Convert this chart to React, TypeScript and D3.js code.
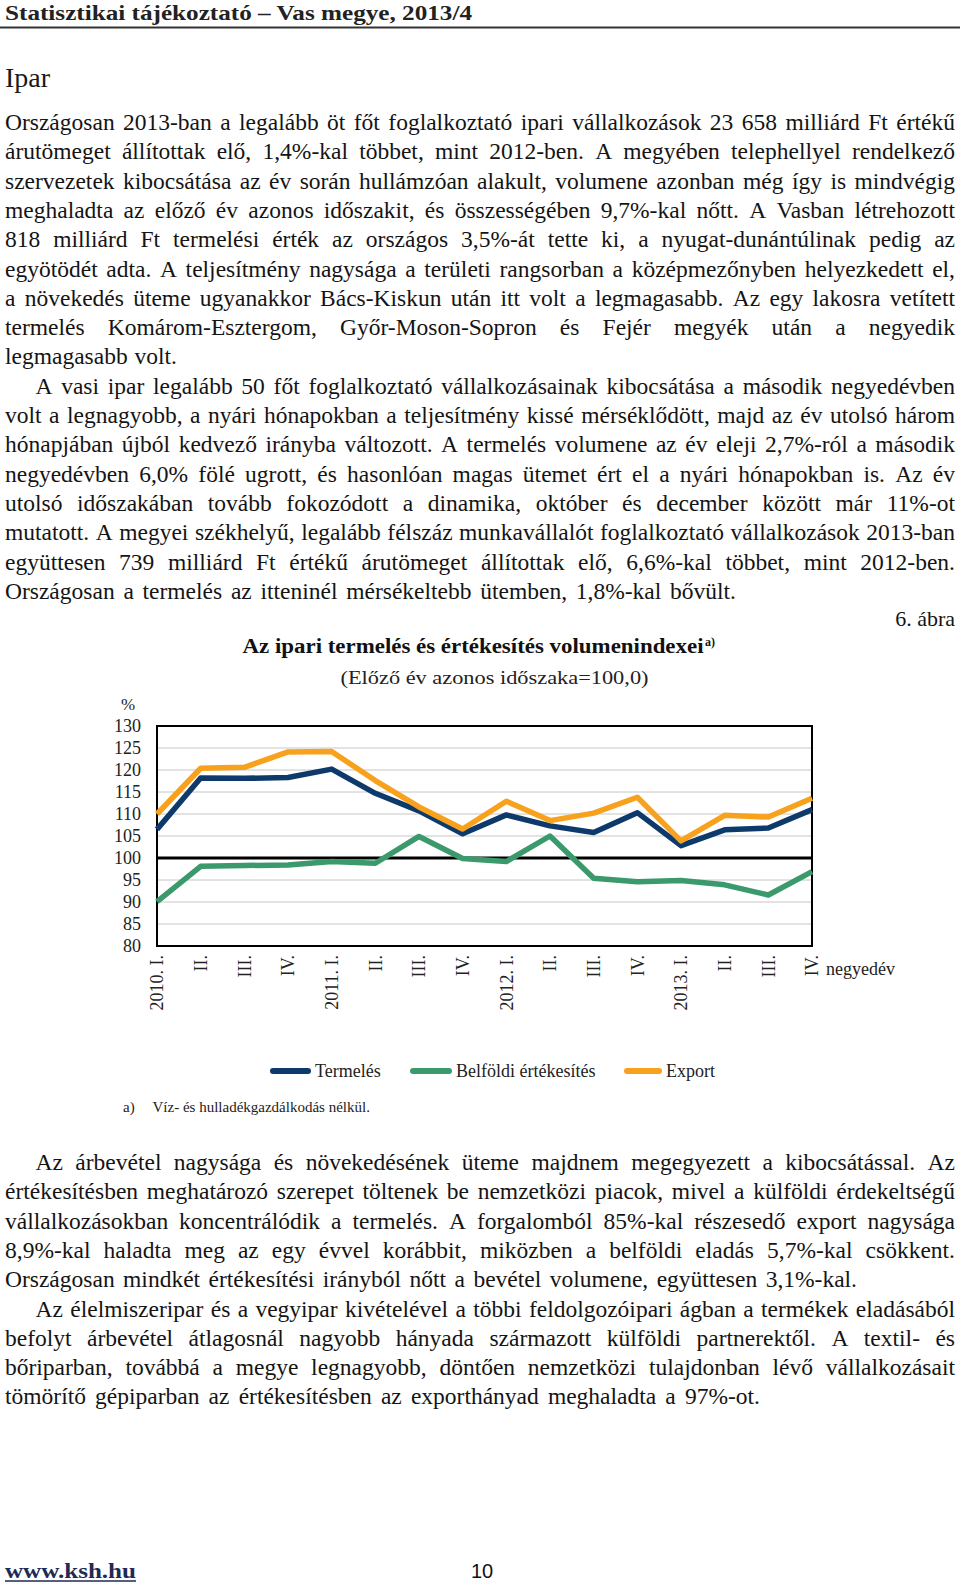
import React from "react";
import * as d3 from "d3";

// ---------- DATA ----------
const quarters = ["2010. I.", "II.", "III.", "IV.", "2011. I.", "II.", "III.", "IV.", "2012. I.", "II.", "III.", "IV.", "2013. I.", "II.", "III.", "IV."];
const termeles = [106.5, 118.2, 118.1, 118.3, 120.2, 114.7, 110.7, 105.5, 109.8, 107.3, 105.8, 110.3, 102.8, 106.4, 106.8, 111.0];
const belfoldi = [90.1, 98.1, 98.3, 98.4, 99.2, 98.8, 104.9, 99.9, 99.2, 105.0, 95.4, 94.6, 94.9, 93.9, 91.6, 96.9];
const exportIdx = [110.0, 120.4, 120.6, 124.1, 124.2, 117.6, 111.6, 106.6, 112.9, 108.5, 110.2, 113.8, 103.9, 109.7, 109.3, 113.6];
const yTicks = [80, 85, 90, 95, 100, 105, 110, 115, 120, 125, 130];
const seriesNames = ["Termelés", "Belföldi értékesítés", "Export"];
const seriesColors = ["#0d3a6b", "#3a9a6b", "#f7a11c"];

const headerText = "Statisztikai tájékoztató – Vas megye, 2013/4";
const sectionTitle = "Ipar";
const chartTitle = "Az ipari termelés és értékesítés volumenindexei";
const chartSubtitle = "(Előző év azonos időszaka=100,0)";
const figureLabel = "6. ábra";
const footnote = "Víz- és hulladékgazdálkodás nélkül.";

const para1 = [
  "Országosan 2013-ban a legalább öt főt foglalkoztató ipari vállalkozások 23 658 milliárd Ft értékű",
  "árutömeget állítottak elő, 1,4%-kal többet, mint 2012-ben. A megyében telephellyel rendelkező",
  "szervezetek kibocsátása az év során hullámzóan alakult, volumene azonban még így is mindvégig",
  "meghaladta az előző év azonos időszakit, és összességében 9,7%-kal nőtt. A Vasban létrehozott",
  "818 milliárd Ft termelési érték az országos 3,5%-át tette ki, a nyugat-dunántúlinak pedig az",
  "egyötödét adta. A teljesítmény nagysága a területi rangsorban a középmezőnyben helyezkedett el,",
  "a növekedés üteme ugyanakkor Bács-Kiskun után itt volt a legmagasabb. Az egy lakosra vetített",
  "termelés Komárom-Esztergom, Győr-Moson-Sopron és Fejér megyék után a negyedik",
  "legmagasabb volt.",
];
const para2 = [
  "A vasi ipar legalább 50 főt foglalkoztató vállalkozásainak kibocsátása a második negyedévben",
  "volt a legnagyobb, a nyári hónapokban a teljesítmény kissé mérséklődött, majd az év utolsó három",
  "hónapjában újból kedvező irányba változott. A termelés volumene az év eleji 2,7%-ról a második",
  "negyedévben 6,0% fölé ugrott, és hasonlóan magas ütemet ért el a nyári hónapokban is. Az év",
  "utolsó időszakában tovább fokozódott a dinamika, október és december között már 11%-ot",
  "mutatott. A megyei székhelyű, legalább félszáz munkavállalót foglalkoztató vállalkozások 2013-ban",
  "együttesen 739 milliárd Ft értékű árutömeget állítottak elő, 6,6%-kal többet, mint 2012-ben.",
  "Országosan a termelés az itteninél mérsékeltebb ütemben, 1,8%-kal bővült.",
];
const para3 = [
  "Az árbevétel nagysága és növekedésének üteme majdnem megegyezett a kibocsátással. Az",
  "értékesítésben meghatározó szerepet töltenek be nemzetközi piacok, mivel a külföldi érdekeltségű",
  "vállalkozásokban koncentrálódik a termelés. A forgalomból 85%-kal részesedő export nagysága",
  "8,9%-kal haladta meg az egy évvel korábbit, miközben a belföldi eladás 5,7%-kal csökkent.",
  "Országosan mindkét értékesítési irányból nőtt a bevétel volumene, együttesen 3,1%-kal.",
];
const para4 = [
  "Az élelmiszeripar és a vegyipar kivételével a többi feldolgozóipari ágban a termékek eladásából",
  "befolyt árbevétel átlagosnál nagyobb hányada származott külföldi partnerektől. A textil- és",
  "bőriparban, továbbá a megye legnagyobb, döntően nemzetközi tulajdonban lévő vállalkozásait",
  "tömörítő gépiparban az értékesítésben az exporthányad meghaladta a 97%-ot.",
];

// ---------- LAYOUT ----------
const W = 960;
const H = 1585;
const SERIF = '"Liberation Serif", "Times New Roman", serif';
const TEXT_COLOR = "#141414";
const BODY_SIZE = 23.5;
const LINE_H = 29.3;
const LEFT = 5;
const RIGHT = 955;
const INDENT = 35.5;

let ctx: CanvasRenderingContext2D | null = null;
function measure(text: string, size: number, weight = "normal") {
  if (!ctx) ctx = document.createElement("canvas").getContext("2d");
  if (!ctx) return text.length * size * 0.45;
  ctx.font = `${weight} ${size}px "Liberation Serif"`;
  return ctx.measureText(text).width;
}

function TextLine({ text, x0, x1, y, size }: { text: string; x0: number; x1: number; y: number; size: number }) {
  const words = text.split(" ");
  const widths = words.map((w) => measure(w, size));
  const sum = d3.sum(widths);
  const spaceW = measure(" ", size);
  let gap = words.length > 1 ? (x1 - x0 - sum) / (words.length - 1) : spaceW;
  let scale = 1;
  if (gap < spaceW * 0.7) {
    gap = spaceW * 0.7;
    scale = (x1 - x0 - gap * (words.length - 1)) / sum;
  }
  let cx = x0;
  const items = words.map((w, i) => {
    const item = { w, x: cx, len: widths[i] * scale };
    cx += widths[i] * scale + gap;
    return item;
  });
  return (
    <g>
      {items.map((it, i) => (
        <text key={i} x={it.x} y={y} {...(scale < 1 ? { textLength: it.len, lengthAdjust: "spacingAndGlyphs" } : {})}>
          {it.w}
        </text>
      ))}
    </g>
  );
}

function Paragraph({ lines, y0, indent, lastEnd }: { lines: string[]; y0: number; indent: boolean; lastEnd: number }) {
  return (
    <g fontFamily={SERIF} fontSize={BODY_SIZE} fill={TEXT_COLOR}>
      {lines.map((l, i) => (
        <TextLine
          key={i}
          text={l}
          x0={i === 0 && indent ? INDENT : LEFT}
          x1={i < lines.length - 1 ? RIGHT : lastEnd}
          y={y0 + i * LINE_H}
          size={BODY_SIZE}
        />
      ))}
    </g>
  );
}

// chart geometry
const PL = 157;
const PR = 812;
const PT = 726;
const PB = 946;

export default function App() {
  const x = d3.scalePoint<number>().domain(d3.range(quarters.length)).range([PL, PR]);
  const y = d3.scaleLinear().domain([80, 130]).range([PB, PT]);
  const line = d3
    .line<number>()
    .x((_, i) => x(i) as number)
    .y((d) => y(d));
  const series = [termeles, belfoldi, exportIdx];

  const p1Y = 130;
  const p2Y = p1Y + para1.length * LINE_H;
  const p3Y = 1170;
  const p4Y = p3Y + para3.length * LINE_H;

  const legendItems = [
    { x1: 270, x2: 311, tx: 315 },
    { x1: 410, x2: 452, tx: 456 },
    { x1: 624, x2: 662, tx: 666 },
  ];

  return (
    <svg width={W} height={H} viewBox={`0 0 ${W} ${H}`} style={{ position: "absolute", left: 0, top: 0, background: "#fff" }}>
      <rect x={0} y={0} width={W} height={H} fill="#fff" />
      {/* header */}
      <text x={5} y={20} fontFamily={SERIF} fontWeight="bold" fontSize={21} fill="#222" textLength={467} lengthAdjust="spacingAndGlyphs">
        {headerText}
      </text>
      <line x1={0} x2={W} y1={27.5} y2={27.5} stroke="#333" strokeWidth={2} />
      <text x={5} y={87} fontFamily={SERIF} fontSize={28} fill="#1a1a1a">
        {sectionTitle}
      </text>

      <Paragraph lines={para1} y0={p1Y} indent={false} lastEnd={177} />
      <Paragraph lines={para2} y0={p2Y} indent={true} lastEnd={736} />

      {/* figure label & titles */}
      <text x={RIGHT} y={626} textAnchor="end" fontFamily={SERIF} fontSize={22} fill={TEXT_COLOR}>
        {figureLabel}
      </text>
      <text x={242.5} y={653} fontFamily={SERIF} fontWeight="bold" fontSize={20.5} fill="#111" textLength={461} lengthAdjust="spacingAndGlyphs">
        {chartTitle}
      </text>
      <text x={705} y={646} fontFamily={SERIF} fontWeight="bold" fontSize={12} fill="#111">
        a)
      </text>
      <text x={340.5} y={684} fontFamily={SERIF} fontSize={19.5} fill="#222" textLength={308} lengthAdjust="spacingAndGlyphs">
        {chartSubtitle}
      </text>

      {/* plot */}
      <g>
        {yTicks
          .filter((t) => t !== 80 && t !== 130 && t !== 100)
          .map((t) => (
            <line key={t} x1={PL} x2={PR} y1={y(t)} y2={y(t)} stroke="#c6c6c6" strokeWidth={1} />
          ))}
        <line x1={PL} x2={PR} y1={y(100)} y2={y(100)} stroke="#000" strokeWidth={3} />
        <rect x={PL} y={PT} width={PR - PL} height={PB - PT} fill="none" stroke="#000" strokeWidth={2} />
        <text x={128} y={710} textAnchor="middle" fontFamily={SERIF} fontSize={17} fill="#222">
          %
        </text>
        {yTicks.map((t) => (
          <text key={t} x={141} y={y(t) + 6} textAnchor="end" fontFamily={SERIF} fontSize={18} fill="#222">
            {t}
          </text>
        ))}
        {quarters.map((q, i) => (
          <text
            key={i}
            transform={`translate(${x(i)},955) rotate(-90)`}
            dy="0.35em"
            textAnchor="end"
            fontFamily={SERIF}
            fontSize={18}
            fill="#222"
          >
            {q}
          </text>
        ))}
        <text x={826} y={975} fontFamily={SERIF} fontSize={18} fill="#222">
          negyedév
        </text>
        {series.map((s, si) => (
          <path
            key={si}
            d={line(s) || ""}
            fill="none"
            stroke={seriesColors[si]}
            strokeWidth={5.5}
            strokeLinejoin="round"
            strokeLinecap="butt"
          />
        ))}
      </g>

      {/* legend */}
      <g fontFamily={SERIF} fontSize={18} fill="#222">
        {legendItems.map((l, i) => (
          <g key={i}>
            <line x1={l.x1 + 3} x2={l.x2 - 3} y1={1071} y2={1071} stroke={seriesColors[i]} strokeWidth={6} strokeLinecap="round" />
            <text x={l.tx} y={1077}>
              {seriesNames[i]}
            </text>
          </g>
        ))}
      </g>

      {/* footnote */}
      <g fontFamily={SERIF} fontSize={15} fill="#222">
        <text x={123} y={1112}>a)</text>
        <text x={152.5} y={1112}>{footnote}</text>
      </g>

      <Paragraph lines={para3} y0={p3Y} indent={true} lastEnd={857} />
      <Paragraph lines={para4} y0={p4Y} indent={true} lastEnd={760} />

      {/* footer */}
      <text x={5} y={1578} fontFamily={SERIF} fontWeight="bold" fontSize={21} fill="#1f2a55" textLength={131} lengthAdjust="spacingAndGlyphs">
        www.ksh.hu
      </text>
      <line x1={5} x2={136} y1={1581} y2={1581} stroke="#1f2a55" strokeWidth={1.5} />
      <text x={471} y={1578} fontFamily='"Liberation Sans", Arial, sans-serif' fontSize={20} fill="#111">
        10
      </text>
    </svg>
  );
}
